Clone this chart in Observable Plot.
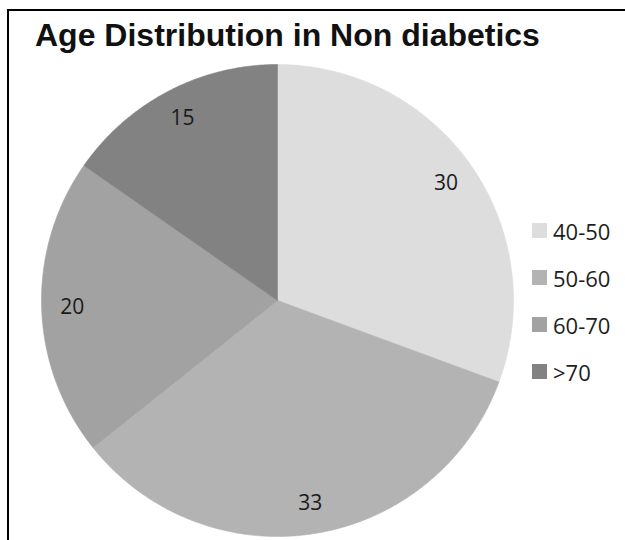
<!DOCTYPE html>
<html>
<head>
<meta charset="utf-8">
<script src="https://cdn.jsdelivr.net/npm/d3@7"></script>
<script src="https://cdn.jsdelivr.net/npm/@observablehq/plot@0.6"></script>
<style>
  html, body { margin: 0; padding: 0; background: #fff; }
  #wrap { position: relative; width: 625px; height: 540px; overflow: hidden; background: #fff; }
  #frame { position: absolute; left: 7px; top: 9px; right: -10px; bottom: -10px; border-left: 2px solid #000; border-top: 2px solid #000; }
  #title { position: absolute; left: 35px; top: 17px; font: bold 32px "Liberation Sans", Arial, sans-serif; color: #111; white-space: nowrap; }
  #legend { position: absolute; left: 532px; top: 207px; font: 22px "Open Sans", sans-serif; color: #1e1e1e; }
  .row { display: flex; align-items: center; height: 47px; }
  .sw { width: 15px; height: 15px; margin-right: 6px; }
  #chart { position: absolute; left: 0; top: 0; }
</style>
</head>
<body>
<div id="wrap">
  <div id="chart"></div>
  <div id="frame"></div>
  <div id="title"></div>
  <div id="legend"></div>
</div>
<script>
const categories = ["40-50", "50-60", "60-70", ">70"];
const values = [30, 33, 20, 15];
const colors = ["#dddddd", "#b3b3b3", "#a2a2a2", "#828282"];
const title = "Age Distribution in Non diabetics";

const arcs = d3.pie().sort(null).value(d => d.value)(
  categories.map((c, i) => ({category: c, value: values[i]}))
);

// slice polygons in a unit-circle coordinate system (angle clockwise from 12 o'clock)
const polys = [];
for (const a of arcs) {
  const cat = a.data.category;
  polys.push({category: cat, x: 0, y: 0});
  const n = Math.max(2, Math.ceil((a.endAngle - a.startAngle) / 0.01));
  for (let k = 0; k <= n; k++) {
    const t = a.startAngle + (a.endAngle - a.startAngle) * k / n;
    polys.push({category: cat, x: Math.sin(t), y: Math.cos(t)});
  }
  polys.push({category: cat, x: 0, y: 0});
}

const labelR = 0.87;
const labels = arcs.map(a => {
  const m = (a.startAngle + a.endAngle) / 2;
  return {text: String(a.data.value), x: labelR * Math.sin(m), y: labelR * Math.cos(m)};
});

const plot = Plot.plot({
  width: 625,
  height: 540,
  marginLeft: 41,
  marginRight: 112,
  marginTop: 64,
  marginBottom: 4,
  x: {domain: [-1, 1], axis: null},
  y: {domain: [-1, 1], axis: null},
  color: {domain: categories, range: colors},
  style: {background: "transparent"},
  marks: [
    Plot.line(polys, {x: "x", y: "y", z: "category", fill: "category", stroke: "category", strokeWidth: 0.6, curve: "linear"}),
    Plot.text(labels, {x: "x", y: "y", text: "text", fontSize: 21, fill: "#1a1a1a", fontFamily: "Open Sans, sans-serif"})
  ]
});
document.getElementById("chart").appendChild(plot);

const color = plot.scale("color");
const legend = document.getElementById("legend");
categories.forEach((c, i) => {
  const row = document.createElement("div");
  row.className = "row";
  const sw = document.createElement("div");
  sw.className = "sw";
  sw.style.background = color.range[i];
  const tx = document.createElement("span");
  tx.textContent = c;
  row.appendChild(sw);
  row.appendChild(tx);
  legend.appendChild(row);
});
document.getElementById("title").textContent = title;
</script>
</body>
</html>
